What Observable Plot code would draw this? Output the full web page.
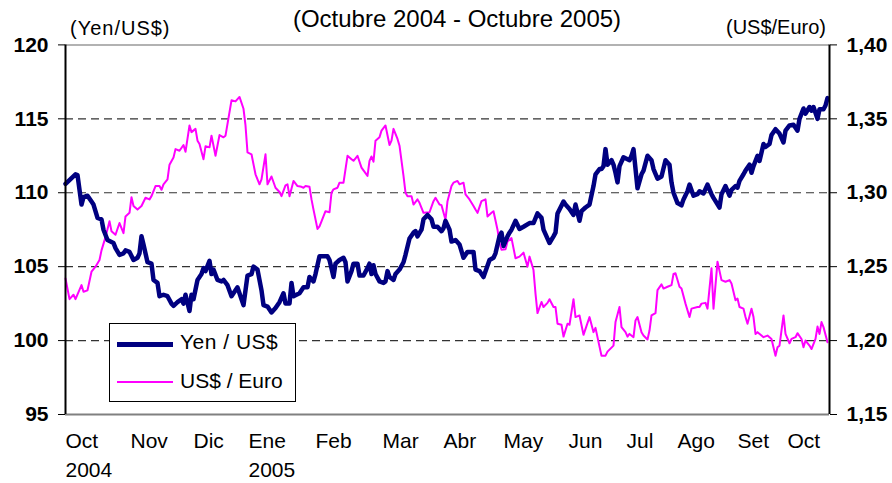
<!DOCTYPE html>
<html><head><meta charset="utf-8">
<script src="https://cdn.jsdelivr.net/npm/d3@7"></script>
<script src="https://cdn.jsdelivr.net/npm/@observablehq/plot@0.6"></script>
<style>
body{margin:0;background:#fff;}
#wrap{position:relative;width:892px;height:483px;font-family:"Liberation Sans",Arial,sans-serif;color:#000;overflow:hidden;background:#fff}
.lbl{position:absolute;white-space:nowrap;line-height:1}
#chart{position:absolute;left:0;top:0}
#legend{position:absolute;left:109px;top:323px;width:187px;height:79px;box-sizing:border-box;border:1px solid #000;background:#fff}
.sw{position:absolute;left:7px;width:56px}
.lt{position:absolute;left:70px;font-size:21px;line-height:1;white-space:nowrap}
</style></head><body>
<div id="wrap">
  <div id="chart"></div>
  <div class="lbl" style="left:0;width:914px;text-align:center;top:7px;font-size:24px">(Octubre 2004 - Octubre 2005)</div>
  <div class="lbl" style="left:70px;top:18px;font-size:20px;letter-spacing:1px">(Yen/US$)</div>
  <div class="lbl" style="left:726px;top:17px;font-size:20px">(US$/Euro)</div>
  <div id="legend">
    <div class="sw" style="top:18px;height:4.5px;background:#000080"></div>
    <div class="lt" style="top:7px;letter-spacing:0.5px">Yen / US$</div>
    <div class="sw" style="top:56.5px;height:2px;background:#FF00FF"></div>
    <div class="lt" style="top:46px">US$ / Euro</div>
  </div>
</div>
<script>
// ---- data (x = days since 1 Oct 2004) ----
const yenDay = [0,5,6,8,9,11,13,14,16,18,19,21,24,25,27,29,30,32,34,36,37,38,39,41,43,44,46,47,49,51,53,54,56,58,59,60,62,63,64,66,68,69,70,72,73,74,76,78,79,81,83,84,86,88,89,91,93,94,96,98,99,101,103,105,107,109,110,112,113,114,117,119,121,122,124,125,127,129,131,132,134,135,137,139,140,141,143,144,146,147,149,151,152,153,154,155,157,159,160,161,162,164,165,167,169,170,172,174,175,176,178,179,181,183,184,186,188,189,190,192,193,195,197,199,201,204,205,207,209,212,214,215,217,218,219,221,222,223,225,227,229,232,234,236,238,239,241,242,244,245,246,249,250,252,254,255,257,258,260,262,264,265,267,268,269,270,271,273,274,275,276,277,279,282,283,284,286,288,289,291,293,294,296,298,300,302,303,304,306,308,309,311,312,314,316,317,319,321,323,324,327,328,330,332,333,335,336,337,339,340,342,343,344,346,347,349,350,352,353,355,357,359,360,362,364,366,367,369,370,372,373,374,376,377,379,380,381];
const yenVal = [110.6,111.25,111.2,109.2,109.7,109.8,109.4,109.2,108.3,108.2,107.5,106.8,106.6,106.25,105.8,105.9,106.1,106.0,105.45,105.6,105.9,107.05,106.5,105.3,105.2,104.1,103.9,103.0,103.1,103.0,102.5,102.35,102.6,102.8,102.5,103.1,102.0,103.1,102.8,104.1,104.5,104.9,104.7,105.4,104.5,104.8,104.1,104.0,104.1,103.75,103.0,103.2,103.6,102.8,102.4,104.4,104.5,105.0,104.8,103.4,102.4,102.3,101.9,102.2,102.6,103.2,102.5,102.5,103.9,103.0,103.2,103.6,103.6,104.3,104.0,104.5,105.7,105.7,105.7,105.45,104.3,105.2,105.45,105.6,105.3,104.0,104.7,105.2,105.2,104.4,104.4,104.9,105.2,104.5,105.1,104.5,104.0,103.9,104.0,104.7,104.3,104.1,104.5,104.8,105.3,105.8,106.9,107.3,107.4,107.05,107.5,108.2,108.5,108.2,107.7,107.7,107.4,107.6,108.1,107.5,106.7,106.8,106.5,105.6,106.0,106.0,104.8,104.7,104.3,105.45,105.6,105.9,107.05,107.3,106.4,107.05,107.3,107.5,108.1,107.55,107.7,107.95,107.95,108.6,108.3,107.5,106.9,106.6,107.05,107.3,108.6,109.4,109.2,108.9,108.5,109.2,108.1,108.75,109.0,109.2,110.45,111.25,111.6,111.6,111.8,112.95,111.9,112.2,111.9,111.35,110.7,111.8,112.4,112.2,112.5,112.95,110.3,111.25,111.5,112.5,112.2,111.6,110.95,111.1,112.2,111.9,110.7,110.0,109.3,109.15,109.55,110.1,110.55,109.8,109.9,110.1,109.95,110.55,109.9,109.65,109.0,109.9,110.45,109.8,110.2,110.45,110.35,110.8,111.25,111.5,111.9,111.35,111.8,112.5,112.15,113.3,113.1,113.3,113.9,114.3,114.0,113.4,114.2,114.55,114.6,114.2,115.0,115.7,115.35,115.8,115.55,115.8,115.0,115.65,115.65,115.9,116.4];

const eurDay = [0,2,4,5,8,9,11,13,15,17,18,20,22,23,25,27,29,30,32,33,34,36,38,40,42,43,45,47,48,49,51,52,54,55,57,59,60,62,63,65,66,67,69,70,72,73,75,77,79,80,83,85,87,89,90,91,93,95,97,98,100,101,103,105,107,108,110,111,112,114,116,118,119,120,122,123,124,126,127,128,130,132,133,134,136,137,139,141,143,144,146,148,151,152,153,154,155,157,158,160,162,163,164,166,167,169,170,171,173,174,176,177,179,182,184,185,187,188,190,191,193,194,196,197,199,200,202,204,205,206,208,210,211,213,214,216,217,218,220,221,223,225,227,229,231,232,234,235,236,238,239,241,242,244,245,246,248,249,251,252,254,255,257,259,262,264,265,267,268,270,271,274,275,277,278,280,281,282,284,285,286,288,289,291,292,293,295,296,298,299,301,303,304,305,307,308,310,312,313,316,317,318,320,321,323,324,326,328,330,332,333,335,336,337,339,340,341,343,344,345,346,348,349,351,353,355,356,357,359,360,362,363,365,366,368,369,370,372,373,375,376,377,378,379,381];
const eurVal = [1.242,1.228,1.231,1.228,1.2375,1.233,1.234,1.2466,1.25,1.2545,1.261,1.270,1.2807,1.274,1.2716,1.2795,1.2727,1.284,1.2864,1.297,1.291,1.2886,1.291,1.2966,1.2955,1.2977,1.3045,1.3045,1.302,1.3057,1.309,1.319,1.3239,1.3295,1.3284,1.3323,1.3277,1.3455,1.341,1.3432,1.3352,1.333,1.3227,1.3314,1.3307,1.3386,1.325,1.339,1.3375,1.3386,1.3625,1.3618,1.3648,1.3568,1.3455,1.3273,1.326,1.3125,1.3057,1.309,1.326,1.3057,1.311,1.3034,1.3005,1.2977,1.305,1.3057,1.2977,1.308,1.3045,1.304,1.3034,1.3045,1.304,1.2955,1.2886,1.2755,1.2773,1.2807,1.2875,1.2868,1.3,1.3023,1.3034,1.3068,1.3068,1.325,1.3227,1.3216,1.325,1.317,1.3114,1.3216,1.3245,1.321,1.3352,1.3375,1.342,1.3455,1.3323,1.3352,1.3432,1.3364,1.3318,1.3114,1.3,1.2977,1.2977,1.292,1.2955,1.2932,1.2864,1.2868,1.2943,1.2966,1.292,1.2916,1.2818,1.2943,1.3045,1.3068,1.308,1.3057,1.3068,1.2989,1.2955,1.291,1.2886,1.2864,1.2943,1.2955,1.284,1.2864,1.2875,1.275,1.266,1.2614,1.2618,1.267,1.2693,1.2557,1.2568,1.2595,1.25,1.2568,1.2477,1.2318,1.2186,1.2261,1.2227,1.2255,1.228,1.2227,1.2227,1.2114,1.2107,1.2027,1.2114,1.2107,1.228,1.2159,1.217,1.2039,1.2159,1.2057,1.2086,1.1959,1.1898,1.1898,1.1925,1.1966,1.2125,1.2227,1.2091,1.2057,1.2027,1.2045,1.2023,1.2136,1.2159,1.2057,1.2034,1.2007,1.2068,1.217,1.2186,1.2341,1.238,1.2352,1.2364,1.2375,1.245,1.2455,1.2364,1.2352,1.225,1.2159,1.2216,1.2227,1.2227,1.225,1.2255,1.2216,1.2489,1.2216,1.2534,1.2409,1.2398,1.2409,1.2386,1.2273,1.2284,1.2227,1.2216,1.2159,1.2114,1.2216,1.2159,1.2045,1.2057,1.2034,1.2023,1.2034,1.2011,1.1898,1.1955,1.1966,1.217,1.2045,1.1982,1.2011,1.2023,1.205,1.2011,1.1955,1.2,1.1966,1.1943,1.2011,1.2095,1.2045,1.2125,1.2091,1.1989];

const yenTicks = [95,100,105,110,115,120];
const eurTicks = [1.15,1.20,1.25,1.30,1.35,1.40];
const gridYen = [100,105,110,115];
const xTickDays = [0,32.5,64,91.5,125,158.5,189,219,251.5,280.5,306,336,361];
const xLabels = ["Oct\n2004","Nov","Dic","Ene\n2005","Feb","Mar","Abr","May","Jun","Jul","Ago","Set","Oct"];
const xDomain = [0,382];

// ---- build ----
const yenData = yenDay.map((d,i)=>({day:d, v:yenVal[i]}));
const eurData = eurDay.map((d,i)=>({day:d, v:eurVal[i]}));
// euro axis (1,15–1,40) shares the frame with yen axis (95–120)
const eurToYen = e => 95 + (e - 1.15) * 100;
const xLabelMap = new Map(xTickDays.map((d,i)=>[d, xLabels[i]]));
const eurLabelMap = new Map(eurTicks.map(e=>[Math.round(eurToYen(e)*1000)/1000, e.toFixed(2).replace(".", ",")]));

const chart = Plot.plot({
  width: 892, height: 483,
  marginTop: 44.4, marginBottom: 69, marginLeft: 65, marginRight: 63,
  style: {fontFamily: "'Liberation Sans', Arial, sans-serif", background: "transparent", color: "#000", overflow: "visible"},
  x: {type: "linear", domain: xDomain},
  y: {domain: [95, 120]},
  marks: [
    Plot.ruleY(gridYen, {stroke: "#333", strokeDasharray: "8,5", strokeWidth: 1.2}),
    Plot.ruleY([120], {stroke: "#999", strokeWidth: 1.5}),
    Plot.ruleY([95], {stroke: "#808080", strokeWidth: 2}),
    Plot.line(eurData, {x: "day", y: d => eurToYen(d.v), stroke: "#FF00FF", strokeWidth: 2, strokeLinejoin: "round"}),
    Plot.line(yenData, {x: "day", y: "v", stroke: "#000080", strokeWidth: 4.5, strokeLinejoin: "round", strokeLinecap: "round"}),
    Plot.ruleX([xDomain[0]], {stroke: "#000", strokeWidth: 2}),
    Plot.ruleX([xDomain[1]], {stroke: "#000", strokeWidth: 2}),
    Plot.axisY(yenTicks, {anchor: "left", tickSize: 7, tickPadding: 10, fontSize: 21, fontWeight: "bold", label: null, tickFormat: d => String(d)}),
    Plot.axisY(eurTicks.map(e => Math.round(eurToYen(e)*1000)/1000), {anchor: "right", tickSize: 7, tickPadding: 10, fontSize: 21, fontWeight: "bold", label: null, tickFormat: d => eurLabelMap.get(d)}),
    Plot.axisX(xTickDays, {anchor: "bottom", tickSize: 0, tickPadding: 12, fontSize: 21, textAnchor: "start", lineHeight: 1.42, label: null, tickFormat: d => xLabelMap.get(d)})
  ]
});
document.getElementById("chart").appendChild(chart);
</script>
</body></html>
